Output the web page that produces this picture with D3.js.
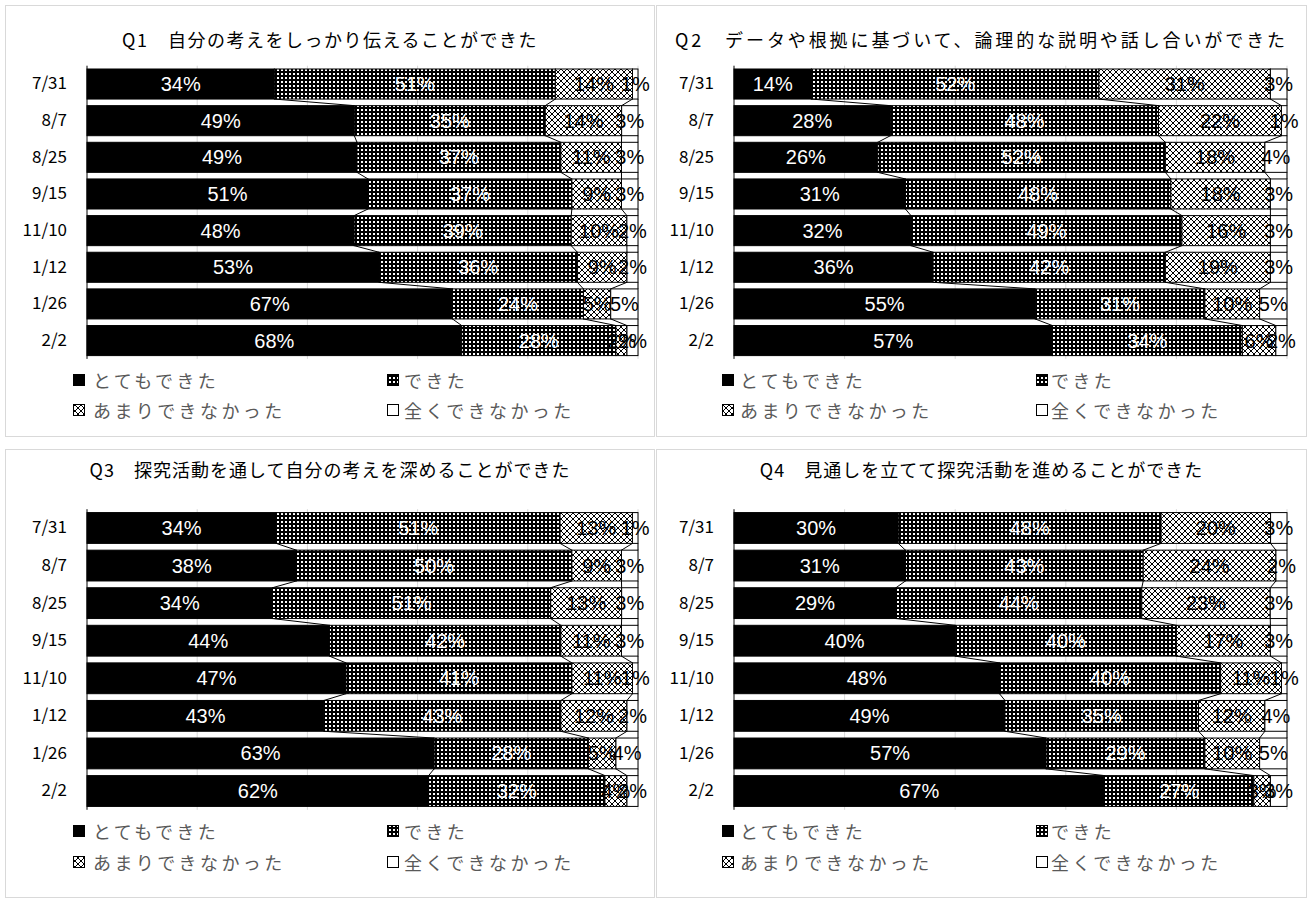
<!DOCTYPE html>
<html><head><meta charset="utf-8">
<script src="https://cdn.jsdelivr.net/npm/d3@7"></script>
<style>body{margin:0;background:#fff}svg{display:block}</style>
</head><body><svg id="c" width="1311" height="899"></svg>
<script>
// ---- data ----
const dates = ["7/31","8/7","8/25","9/15","11/10","1/12","1/26","2/2"];
const seriesNames = ["とてもできた","できた","あまりできなかった","全くできなかった"];
const titles = [
  "Q1　自分の考えをしっかり伝えることができた",
  "Q2　データや根拠に基づいて、論理的な説明や話し合いができた",
  "Q3　探究活動を通して自分の考えを深めることができた",
  "Q4　見通しを立てて探究活動を進めることができた"
];
const q1Very   = [34,49,49,51,48,53,67,68];
const q1Able   = [51,35,37,37,39,36,24,28];
const q1Rarely = [14,14,11, 9,10, 9, 5, 2];
const q1None   = [ 1, 3, 3, 3, 2, 2, 5, 2];
const q2Very   = [14,28,26,31,32,36,55,57];
const q2Able   = [52,48,52,48,49,42,31,34];
const q2Rarely = [31,22,18,18,16,19,10, 6];
const q2None   = [ 3, 1, 4, 3, 3, 3, 5, 2];
const q3Very   = [34,38,34,44,47,43,63,62];
const q3Able   = [51,50,51,42,41,43,28,32];
const q3Rarely = [13, 9,13,11,11,12, 5, 4];
const q3None   = [ 1, 3, 3, 3, 1, 2, 4, 2];
const q4Very   = [30,31,29,40,48,49,57,67];
const q4Able   = [48,43,44,40,40,35,29,27];
const q4Rarely = [20,24,23,17,11,12,10, 3];
const q4None   = [ 3, 2, 3, 3, 1, 4, 5, 3];
const xTicks = [0,0.2,0.4,0.6,0.8,1];

const questions = [
  [q1Very,q1Able,q1Rarely,q1None],
  [q2Very,q2Able,q2Rarely,q2None],
  [q3Very,q3Able,q3Rarely,q3None],
  [q4Very,q4Able,q4Rarely,q4None]
];

// ---- layout ----
const panels = [
  {bx:5,  by:5,   bw:650, bh:432, L:87,  R:638,  T:65.7,  B:358.9, ty:39,  ls:1.5, ly:[380,410], lx:[73,387],  tx:[93,404]},
  {bx:656,by:5,   bw:651, bh:432, L:734, R:1287, T:65.7,  B:358.9, ty:39,  ls:2.9, ly:[380,410], lx:[722,1036], tx:[740,1051]},
  {bx:5,  by:449, bw:650, bh:449, L:87,  R:638,  T:509.2, B:809.8, ty:469, ls:1,   ly:[831,862], lx:[73,387],  tx:[93,404]},
  {bx:656,by:449, bw:651, bh:449, L:734, R:1287, T:509.2, B:809.8, ty:469, ls:1,   ly:[831,862], lx:[722,1036], tx:[740,1051]}
];

const svg = d3.select("#c");
const defs = svg.append("defs");
// dark pattern: black with white dots
const pd = defs.append("pattern").attr("id","pDark").attr("patternUnits","userSpaceOnUse").attr("width",4).attr("height",4);
pd.append("rect").attr("width",4).attr("height",4).attr("fill","#000");
pd.append("rect").attr("x",1).attr("y",1).attr("width",2).attr("height",2).attr("fill","#fff");
// light pattern: white with black diamond lattice
const pl = defs.append("pattern").attr("id","pLight").attr("patternUnits","userSpaceOnUse").attr("width",6).attr("height",6);
pl.append("rect").attr("width",6).attr("height",6).attr("fill","#fff");
for (let i=0;i<6;i++){
  pl.append("rect").attr("x",i).attr("y",i).attr("width",1).attr("height",1).attr("fill","#000");
  pl.append("rect").attr("x",5-i).attr("y",i).attr("width",1).attr("height",1).attr("fill","#000");
}
const fills = ["#000","url(#pDark)","url(#pLight)","#fff"];
const labelColors = ["#fff","#fff","#000","#000"];
const keys = [0,1,2,3];

panels.forEach((p,qi)=>{
  const g = svg.append("g");
  g.append("rect").attr("x",p.bx+0.5).attr("y",p.by+0.5).attr("width",p.bw-1).attr("height",p.bh-1)
    .attr("fill","#fff").attr("stroke","#d9d9d9").attr("stroke-width",1);

  g.append("text").attr("x",p.bx+p.bw/2).attr("y",p.ty).attr("text-anchor","middle")
    .attr("dominant-baseline","central").attr("font-family","'Noto Sans CJK JP'")
    .attr("font-size",18).attr("letter-spacing",p.ls).attr("fill","#000").text(titles[qi]);

  const series = questions[qi];
  const rows = dates.map((d,i)=>{ const o={date:d}; keys.forEach(k=>o[k]=series[k][i]); return o; });
  const stacked = d3.stack().keys(keys).offset(d3.stackOffsetExpand)(rows);

  const x = d3.scaleLinear().domain([0,1]).range([p.L,p.R]);
  const y = d3.scaleBand().domain(dates).range([p.T,p.B]).paddingInner(0.18).paddingOuter(0.09);

  // gridlines
  g.append("g").selectAll("line").data(xTicks.slice(1)).join("line")
    .attr("x1",d=>x(d)).attr("x2",d=>x(d)).attr("y1",p.T).attr("y2",p.B)
    .attr("stroke","#d9d9d9").attr("stroke-width",1);

  // bars
  stacked.forEach((s,si)=>{
    g.append("g").selectAll("rect").data(s).join("rect")
      .attr("x",d=>x(d[0])).attr("width",d=>x(d[1])-x(d[0]))
      .attr("y",d=>y(d.data.date)).attr("height",y.bandwidth())
      .attr("fill",fills[si]).attr("stroke","#000").attr("stroke-width",1);
  });

  // series lines
  stacked.forEach((s,si)=>{
    const segs = d3.range(dates.length-1).map(i=>[s[i],s[i+1]]);
    g.append("g").selectAll("line").data(segs).join("line")
      .attr("x1",d=>x(d[0][1])).attr("y1",d=>y(d[0].data.date)+y.bandwidth())
      .attr("x2",d=>x(d[1][1])).attr("y2",d=>y(d[1].data.date))
      .attr("stroke","#000").attr("stroke-width",1);
  });

  // y axis
  const ya = g.append("g").attr("transform",`translate(${p.L},0)`).call(d3.axisLeft(y).tickSize(0).tickPadding(20));
  ya.select(".domain").attr("stroke","#000").attr("d",`M0,${p.T}V${p.B}`);
  ya.selectAll("text").attr("font-family","'Noto Sans CJK JP'").attr("font-size",17).attr("fill","#000");

  // data labels
  stacked.forEach((s,si)=>{
    g.append("g").selectAll("text").data(s).join("text")
      .attr("x",d=>(x(d[0])+x(d[1]))/2).attr("y",d=>y(d.data.date)+y.bandwidth()/2)
      .attr("text-anchor","middle").attr("dominant-baseline","central")
      .attr("font-family","'Liberation Sans',Arial,sans-serif").attr("font-size",20)
      .attr("fill",labelColors[si]).text((d,i)=>series[si][i]+"%");
  });

  // legend
  const lg = [[0,0],[1,0],[2,1],[3,1]];
  lg.forEach(([si,row])=>{
    const col = si%2;
    g.append("rect").attr("x",p.lx[col]+0.5).attr("y",p.ly[row]-5.5).attr("width",11).attr("height",11)
      .attr("fill",fills[si]).attr("stroke","#000").attr("stroke-width",1);
    g.append("text").attr("x",p.tx[col]).attr("y",p.ly[row]).attr("dominant-baseline","central")
      .attr("font-family","'Noto Sans CJK JP'").attr("font-size",18).attr("letter-spacing",3.4)
      .attr("fill","#595959").text(seriesNames[si]);
  });
});
</script></body></html>
